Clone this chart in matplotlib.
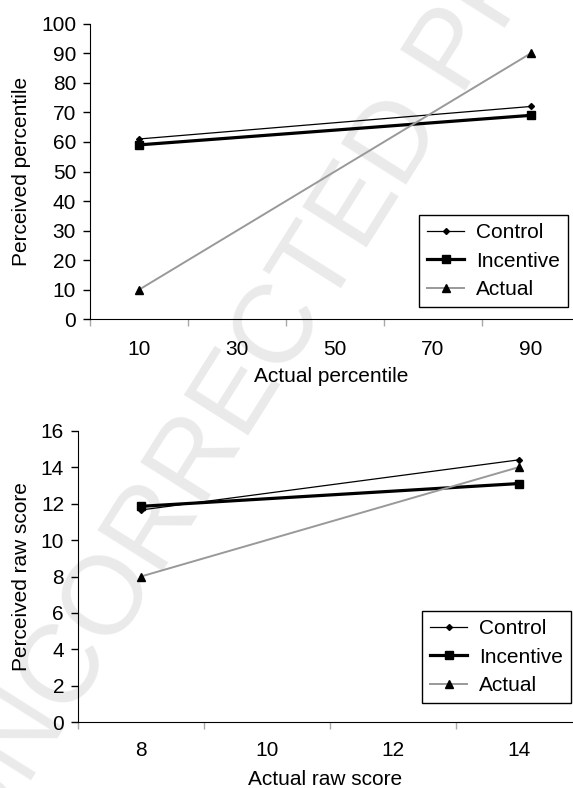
import matplotlib
matplotlib.use("Agg")
import matplotlib.pyplot as plt

plt.rcParams['font.family'] = ['Liberation Sans', 'DejaVu Sans']
plt.rcParams['font.size'] = 15

# panel 1: percentiles
pct_x = [10, 90]
pct_control = [61, 72]
pct_incentive = [59, 69]
pct_actual = [10, 90]
pct_labels = [10, 30, 50, 70, 90]

# panel 2: raw scores
raw_x = [8, 14]
raw_control = [11.65, 14.4]
raw_incentive = [11.85, 13.1]
raw_actual = [8, 14]
raw_labels = [8, 10, 12, 14]

series_names = ['Control', 'Incentive', 'Actual']

fig = plt.figure(figsize=(5.73, 7.88), dpi=100)

# watermark behind the charts
fig.text(0.529, 0.627, 'UNCORRECTED PROOF', fontsize=80,
         color='#eaeaea', rotation=57.8, ha='center', va='center', zorder=0)

ax1 = fig.add_axes([90/573, 1 - 319.3/788, 1 - 90/573, (319.3 - 23.7)/788])
ax2 = fig.add_axes([78/573, 1 - 722.3/788, 1 - 78/573, (722.3 - 430.7)/788])
for ax in (ax1, ax2):
    ax.set_zorder(2)


def draw(ax, x, control, incentive, actual):
    ax.plot(x, control, color='black', lw=0.9, marker='D', ms=3,
            label=series_names[0], zorder=3)
    ax.plot(x, incentive, color='black', lw=2.3, marker='s', ms=6,
            label=series_names[1], zorder=3)
    ax.plot(x, actual, color='#999999', lw=1.4, marker='^', ms=6,
            mfc='black', mec='black', label=series_names[2], zorder=3)


def style(ax, pad):
    ax.patch.set_alpha(0)
    ax.spines['top'].set_visible(False)
    ax.spines['right'].set_visible(False)
    ax.tick_params(axis='y', length=5, width=1, pad=5, direction='out')
    ax.tick_params(axis='x', which='major', length=5, width=1,
                   color='#aaaaaa', labelbottom=False, direction='out')
    ax.tick_params(axis='x', which='minor', length=0, pad=pad)


def add_legend(ax, right, top):
    leg = ax.legend(loc='upper right', bbox_to_anchor=(right/573, 1 - top/788),
                    bbox_transform=fig.transFigure, fancybox=False,
                    edgecolor='black', framealpha=1, handlelength=1.8,
                    handletextpad=0.55, labelspacing=0.45, borderpad=0.4,
                    borderaxespad=0)
    leg.get_frame().set_linewidth(1)


# top chart
draw(ax1, pct_x, pct_control, pct_incentive, pct_actual)
style(ax1, 15)
ax1.set_ylim(0, 100)
ax1.set_yticks(range(0, 101, 10))
ax1.set_xlim(0, 98.6)
ax1.set_xticks([0, 20, 40, 60, 80])
ax1.set_xticks(pct_labels, minor=True)
ax1.set_xticklabels([str(v) for v in pct_labels], minor=True)
ax1.set_xlabel('Actual percentile', labelpad=6)
ax1.set_ylabel('Perceived percentile', labelpad=7)
add_legend(ax1, 568, 215)

# bottom chart
draw(ax2, raw_x, raw_control, raw_incentive, raw_actual)
style(ax2, 13.5)
ax2.set_ylim(0, 16)
ax2.set_yticks(range(0, 17, 2))
ax2.set_xlim(7, 14.86)
ax2.set_xticks([7, 9, 11, 13])
ax2.set_xticks(raw_labels, minor=True)
ax2.set_xticklabels([str(v) for v in raw_labels], minor=True)
ax2.set_xlabel('Actual raw score', labelpad=7)
ax2.set_ylabel('Perceived raw score', labelpad=7)
add_legend(ax2, 571, 611)

fig.savefig('out.png', dpi=100)
